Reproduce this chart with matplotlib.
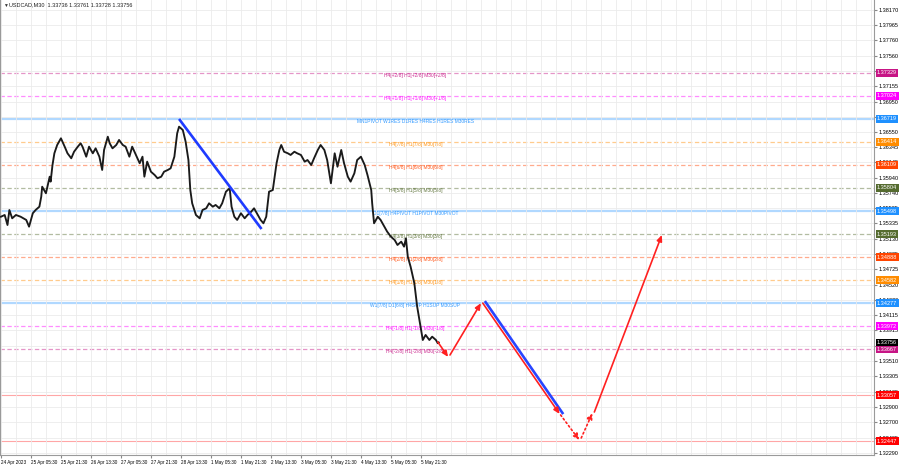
import matplotlib
matplotlib.use('Agg')
import matplotlib.pyplot as plt

plt.rcParams['font.family'] = ['Liberation Sans', 'DejaVu Sans']

# USDCAD M30 path (bar index, price)
bars = [0, 4, 7, 9, 12, 16, 21, 27, 30, 34, 37, 41, 43, 44, 48, 52, 53, 55, 57, 60,
        64, 68, 71, 75, 78, 82, 85, 87, 91, 94, 98, 101, 105, 108, 110, 114, 116, 119, 123, 126,
        130, 133, 137, 140, 144, 148, 151, 153, 156, 160, 164, 167, 171, 174, 178, 181, 185, 188, 190, 194,
        197, 200, 202, 204, 208, 212, 215, 219, 222, 226, 229, 233, 236, 240, 244, 246, 249, 252, 256, 260,
        263, 267, 270, 273, 277, 280, 283, 286, 290, 292, 294, 297, 299, 302, 306, 309, 313, 316, 320, 324,
        327, 331, 334, 338, 341, 345, 348, 352, 356, 359, 363, 366, 370, 373, 377, 380, 384, 388, 391, 395,
        396, 398, 402, 405, 409, 412, 416, 420, 423, 427, 430, 432, 434, 437, 441, 444, 447, 450, 453, 457,
        460, 464, 466, 467]
closes = [1.35423, 1.35446, 1.35313, 1.35512, 1.35402, 1.35446, 1.35423, 1.35380, 1.35291, 1.35469,
          1.35512, 1.35556, 1.35689, 1.35821, 1.35734, 1.35954, 1.35888, 1.36109, 1.36264, 1.36374,
          1.36463, 1.36352, 1.36264, 1.36198, 1.36285, 1.36352, 1.36397, 1.36352, 1.36219, 1.36352,
          1.36264, 1.36330, 1.36219, 1.36043, 1.36308, 1.36484, 1.36397, 1.36330, 1.36374, 1.36441,
          1.36374, 1.36352, 1.36219, 1.36352, 1.36242, 1.36132, 1.36219, 1.35954, 1.36153, 1.36020,
          1.35976, 1.35933, 1.35954, 1.36020, 1.36043, 1.36065, 1.36219, 1.36529, 1.36617, 1.36573,
          1.36418, 1.36175, 1.35777, 1.35601, 1.35446, 1.35402, 1.35512, 1.35535, 1.35601, 1.35556,
          1.35579, 1.35535, 1.35601, 1.35755, 1.35800, 1.35556, 1.35423, 1.35380, 1.35469, 1.35402,
          1.35446, 1.35490, 1.35535, 1.35469, 1.35380, 1.35336, 1.35423, 1.35755, 1.35777, 1.35954,
          1.36132, 1.36308, 1.36374, 1.36285, 1.36264, 1.36242, 1.36285, 1.36264, 1.36242, 1.36153,
          1.36175, 1.36109, 1.36198, 1.36308, 1.36374, 1.36308, 1.36175, 1.35866, 1.36264, 1.36086,
          1.36308, 1.36132, 1.35954, 1.35888, 1.35999, 1.36175, 1.36219, 1.36109, 1.35976, 1.35777,
          1.35601, 1.35336, 1.35423, 1.35380, 1.35291, 1.35225, 1.35158, 1.35114, 1.35048, 1.35092,
          1.35026, 1.35137, 1.34893, 1.34760, 1.34540, 1.34230, 1.34010, 1.33788, 1.33855, 1.33788,
          1.33832, 1.33788, 1.33745, 1.33756]
last_price = 1.33756

# right price scale
price_ticks = [1.38170, 1.37965, 1.37760, 1.37560, 1.37355, 1.37155, 1.36950, 1.36750, 1.36550, 1.36345,
               1.36145, 1.35940, 1.35740, 1.35535, 1.35335, 1.35130, 1.34925, 1.34725, 1.34520, 1.34320,
               1.34115, 1.33915, 1.33710, 1.33510, 1.33305, 1.33105, 1.32900, 1.32700, 1.32495, 1.32290]

time_labels = ['24 Apr 2023', '25 Apr 05:30', '25 Apr 21:30', '26 Apr 13:30', '27 Apr 05:30',
               '27 Apr 21:30', '28 Apr 13:30', '1 May 05:30', '1 May 21:30', '2 May 13:30',
               '3 May 05:30', '3 May 21:30', '4 May 13:30', '5 May 05:30', '5 May 21:30']
time_label_bars = [0, 32, 64, 96, 128, 160, 192, 224, 256, 288, 320, 352, 384, 416, 448]

# Murrey levels
level_prices = [1.37329, 1.37024, 1.36719, 1.36414, 1.36109, 1.35804, 1.35498, 1.35193,
                1.34888, 1.34582, 1.34277, 1.33972, 1.33667, 1.33057, 1.32447]
level_texts = ['H4[+2/8] H1[+2/8] M30[+2/8]', 'H4[+1/8] H1[+1/8] M30[+1/8]',
               'MN1PIVOT W1RES D1RES H4RES H1RES M30RES', 'H4[7/8] H1[7/8] M30[7/8]',
               'H4[6/8] H1[6/8] M30[6/8]', 'H4[5/8] H1[5/8] M30[5/8]',
               'D1[7/8] H4PIVOT H1PIVOT M30PIVOT', 'H4[3/8] H1[3/8] M30[3/8]',
               'H4[2/8] H1[2/8] M30[2/8]', 'H4[1/8] H1[1/8] M30[1/8]',
               'W1[7/8] D1[6/8] H4SUP H1SUP M30SUP', 'H4[-1/8] H1[-1/8] M30[-1/8]',
               'H4[-2/8] H1[-2/8] M30[-2/8]', '', '']
level_colors = ['#C71585', '#FF00FF', '#1E90FF', '#FF8C00', '#FF4500', '#556B2F', '#1E90FF', '#556B2F',
                '#FF4500', '#FF8C00', '#1E90FF', '#FF00FF', '#C71585', '#FF0000', '#FF0000']
level_dashed = [True, True, False, True, True, True, False, True,
                True, True, False, True, True, False, False]
label_bar = 442

# blue trend line
trend_bars = [190, 278]
trend_prices = [1.36719, 1.35260]

# forecast arrows
fc_x0 = [466, 479, 514, 597, 619, 633]
fc_y0 = [1.33762, 1.33589, 1.34277, 1.32794, 1.32489, 1.32833]
fc_x1 = [477, 512, 596, 617, 631, 705]
fc_y1 = [1.33563, 1.34277, 1.32807, 1.32460, 1.32820, 1.35181]
fc_dotted = [False, False, False, True, True, False]
blue_fc_bars = [517, 599]
blue_fc_prices = [1.34290, 1.32820]

fig = plt.figure(figsize=(9, 4.68), dpi=100)
ax = fig.add_axes([0.0, 13 / 468, 874 / 900, 455 / 468])
ax.set_xlim(-1, 931.3)
ax.set_ylim(1.32263, 1.38297)

# grid
ax.set_xticks(range(0, 932, 16), minor=True)
ax.set_xticks(time_label_bars, time_labels)
ax.set_yticks(price_ticks, [f'{p:.5f}' for p in price_ticks])
ax.grid(which='both', color='#EBEBEB', lw=0.6, zorder=0)
ax.yaxis.tick_right()
ax.tick_params(axis='y', labelsize=4, length=2, pad=1.5, color='#888888')
ax.tick_params(axis='x', which='major', labelsize=3.3, length=2, pad=1.5, color='#888888')
ax.tick_params(axis='x', which='minor', length=0)
for lbl in ax.get_xticklabels():
    lbl.set_horizontalalignment('left')
ax.spines['top'].set_visible(False)
for s in ['left', 'right', 'bottom']:
    ax.spines[s].set_color('#9A9A9A')
    ax.spines[s].set_linewidth(0.8)

# levels
for p, t, c, d in zip(level_prices, level_texts, level_colors, level_dashed):
    if d:
        ax.axhline(p, color=c, lw=0.9, alpha=0.45, dashes=(3.5, 2), zorder=1)
    else:
        ax.axhline(p, color=c, lw=1.6 if c != '#FF0000' else 0.8, alpha=0.35, zorder=1)
    if t:
        ax.annotate(t, xy=(label_bar, p), xytext=(0, -1.9), textcoords='offset points',
                    ha='center', va='center', fontsize=3.5, color=c, alpha=0.9, zorder=2)
    ax.annotate(f'{p:.5f}', xy=(1.0, p), xycoords=('axes fraction', 'data'), xytext=(2.2, 0),
                textcoords='offset points', ha='left', va='center', fontsize=4, color='white',
                bbox=dict(boxstyle='square,pad=0.25', fc=c, ec='none'),
                annotation_clip=False, zorder=10)
ax.annotate(f'{last_price:.5f}', xy=(1.0, last_price), xycoords=('axes fraction', 'data'),
            xytext=(2.2, 0), textcoords='offset points', ha='left', va='center', fontsize=4,
            color='white', bbox=dict(boxstyle='square,pad=0.25', fc='black', ec='none'),
            annotation_clip=False, zorder=11)

# price
ax.plot(bars, closes, color='#1A1A1A', lw=1.35, zorder=4)

# trend line
ax.plot(trend_bars, trend_prices, color='#1F3BFF', lw=1.9, zorder=5, solid_capstyle='butt')

# forecast
ax.plot(blue_fc_bars, blue_fc_prices, color='#2845FF', lw=1.9, zorder=5)
for x0, y0, x1, y1, dot in zip(fc_x0, fc_y0, fc_x1, fc_y1, fc_dotted):
    ax.annotate('', xy=(x1, y1), xytext=(x0, y0),
                arrowprops=dict(arrowstyle='-|>,head_length=0.5,head_width=0.22', color='#FF2020',
                                lw=1.2, linestyle=':' if dot else '-', shrinkA=0, shrinkB=0,
                                mutation_scale=7), zorder=6)

fig.text(3 / 900, 1 - 5 / 468, '\u25bc', fontsize=3.5, color='#333333', va='center')
fig.text(9 / 900, 1 - 5 / 468, 'USDCAD,M30  1.33736 1.33761 1.33728 1.33756', fontsize=4,
         color='#222222', va='center')

plt.savefig('out.png', dpi=100)
plt.close()
